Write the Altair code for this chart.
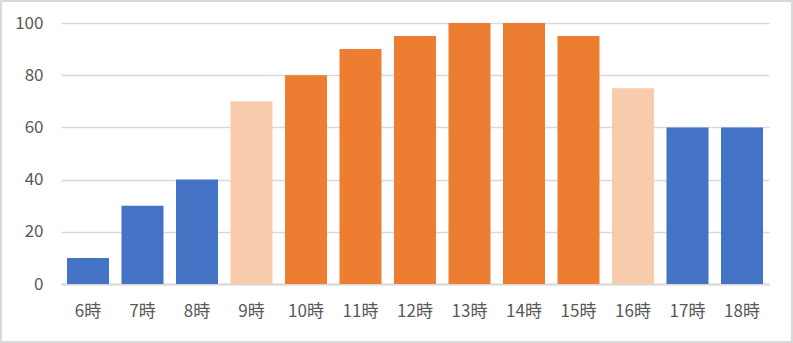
import altair as alt
import pandas as pd

hours = ["6時", "7時", "8時", "9時", "10時", "11時", "12時", "13時", "14時", "15時", "16時", "17時", "18時"]
values = [10, 30, 40, 70, 80, 90, 95, 100, 100, 95, 75, 60, 60]
groups = ["low", "low", "low", "mid", "high", "high", "high", "high", "high", "high", "mid", "low", "low"]

df = pd.DataFrame({"hour": hours, "value": values, "group": groups})

W, H = 708, 261
font = "Noto Sans CJK JP"

bars = alt.Chart(df).mark_bar().encode(
    x=alt.X("hour:N", sort=hours, title=None,
            scale=alt.Scale(paddingInner=0.229, paddingOuter=0.11),
            axis=alt.Axis(labelAngle=0, ticks=False, domainColor="#D9D9D9", domainWidth=2,
                          labelPadding=19, labelFontSize=17, labelColor="#595959", labelFont=font,
                          grid=False)),
    y=alt.Y("value:Q", title=None, scale=alt.Scale(domain=[0, 100], nice=False),
            axis=alt.Axis(values=[0, 20, 40, 60, 80, 100], ticks=False, domain=False,
                          gridColor="#D9D9D9", gridWidth=1.5, labelPadding=18,
                          labelFontSize=17, labelColor="#595959", labelFont=font)),
    color=alt.Color("group:N", legend=None,
                    scale=alt.Scale(domain=["low", "mid", "high"],
                                    range=["#4472C4", "#F8CBAD", "#ED7D31"])),
)

border = alt.Chart(df).mark_rect(fill=None, stroke="#D9D9D9", strokeWidth=2).encode(
    x=alt.value(-60), x2=alt.value(W + 23), y=alt.value(-22), y2=alt.value(H + 58)
)

chart = alt.layer(bars, border).properties(
    width=W, height=H,
    autosize=alt.AutoSizeParams(type="none"),
    padding={"left": 61, "top": 23, "right": 24, "bottom": 59},
    background="white",
).configure_view(stroke=None)

chart.save("out.html", embed_options={"renderer": "svg", "actions": False})
